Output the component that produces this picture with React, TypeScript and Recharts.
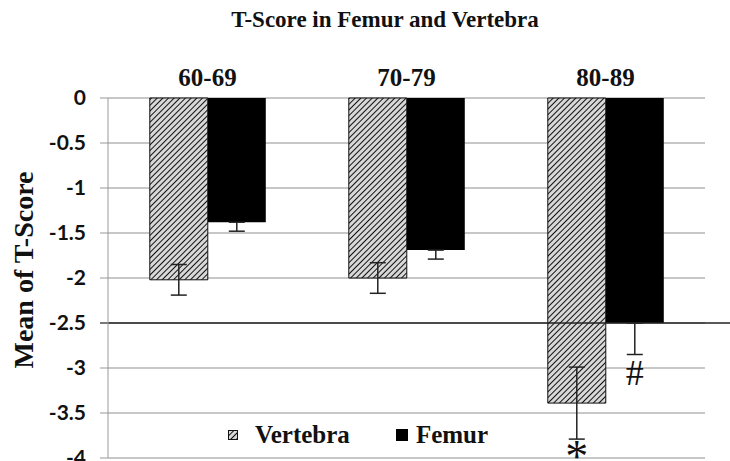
import { BarChart, Bar, XAxis, YAxis, CartesianGrid, ErrorBar, ReferenceLine, LabelList } from 'recharts';

const ageGroups = ['60-69', '70-79', '80-89'];
const vertebraMeans = [-2.02, -2.0, -3.39];
const vertebraErrors = [0.17, 0.17, 0.4];
const femurMeans = [-1.38, -1.69, -2.5];
const femurErrors = [0.1, 0.1, 0.35];
const vertebraMarks = ['', '', '*'];
const femurMarks = ['', '', '#'];
const yTicks = [0, -0.5, -1, -1.5, -2, -2.5, -3, -3.5, -4];
const threshold = -2.5;

const rows = ageGroups.map((group, i) => ({
  group,
  vertebra: vertebraMeans[i],
  vertebraErr: vertebraErrors[i],
  vertebraMark: vertebraMarks[i],
  femur: femurMeans[i],
  // femur error only shows below the bar
  femurErr: [femurErrors[i], 0],
  femurMark: femurMarks[i],
}));

const serif = 'Liberation Serif, DejaVu Serif, serif';
const sans = 'Lato, Liberation Sans, sans-serif';

function HatchDefs({ id }: { id: string }) {
  return (
    <defs>
      <pattern id={id} patternUnits="userSpaceOnUse" width="4" height="4" patternTransform="rotate(45)">
        <rect width="4" height="4" fill="#d8d8d8" />
        <line x1="0" y1="0" x2="0" y2="4" stroke="#111" strokeWidth="2" />
      </pattern>
    </defs>
  );
}

function renderYTick(props: any) {
  const { x, y, payload } = props;
  return (
    <text x={x} y={y} dy={7} textAnchor="end" style={{ fontFamily: sans, fontWeight: 700, fontSize: 21 }} fill="#111">
      {payload.value}
    </text>
  );
}

// marks below the error bar; y/height come from the bar rectangle
function makeMark(errors: number[], means: number[], gap: number, size: number) {
  return (props: any) => {
    const { x, y, width, height, value, index } = props;
    if (!value) return null;
    const bottom = Math.max(y, y + height);
    const ppu = Math.abs(height) / Math.abs(means[index]);
    return (
      <text
        x={x + width / 2}
        y={bottom + errors[index] * ppu + gap}
        textAnchor="middle"
        fontFamily={serif}
        fontSize={size}
        fill="#111"
      >
        {value}
      </text>
    );
  };
}

function ThresholdLine(props: any) {
  const { x1, y1, y2 } = props;
  return <line x1={x1 - 8} y1={y1} x2={730} y2={y2} stroke="#222" strokeWidth={1.5} />;
}

export default function App() {
  return (
    <div style={{ position: 'absolute', left: 0, top: 0, width: 730, height: 461, background: '#fff', overflow: 'hidden' }}>
      <div
        style={{
          position: 'absolute', top: 7, left: 225, width: 320, textAlign: 'center',
          fontFamily: serif, fontWeight: 'bold', fontSize: 23, color: '#111', whiteSpace: 'nowrap',
        }}
      >
        T-Score in Femur and Vertebra
      </div>
      <BarChart
        width={730}
        height={461}
        data={rows}
        margin={{ top: 60, right: 25, left: 0, bottom: 3 }}
        barGap={0}
        barCategoryGap="21%"
      >
        <HatchDefs id="hatch" />
        <CartesianGrid vertical={false} stroke="#b5b5b5" strokeWidth={1.5} />
        <XAxis
          dataKey="group"
          orientation="top"
          height={38}
          axisLine={false}
          tickLine={false}
          tickMargin={6}
          tick={{ fontSize: 25, fontWeight: 'bold', fill: '#111', fontFamily: serif }}
        />
        <YAxis
          type="number"
          domain={[-4, 0]}
          ticks={yTicks}
          interval={0}
          width={108}
          tickSize={8}
          tickMargin={14}
          axisLine={{ stroke: '#999' }}
          tickLine={{ stroke: '#999' }}
          tick={renderYTick}
          label={{
            value: 'Mean of T-Score',
            angle: -90,
            position: 'insideLeft',
            offset: 23,
            dy: -8,
            style: { textAnchor: 'middle', fontSize: 28, fontWeight: 'bold', fill: '#111', fontFamily: serif },
          }}
        />
        <Bar dataKey="vertebra" fill="url(#hatch)" stroke="#111" strokeWidth={1} isAnimationActive={false}>
          <ErrorBar dataKey="vertebraErr" width={8} stroke="#222" strokeWidth={1.5} direction="y" />
          <LabelList dataKey="vertebraMark" content={makeMark(vertebraErrors, vertebraMeans, 33, 46)} />
        </Bar>
        <Bar dataKey="femur" fill="#000" isAnimationActive={false}>
          <ErrorBar dataKey="femurErr" width={8} stroke="#222" strokeWidth={1.5} direction="y" />
          <LabelList dataKey="femurMark" content={makeMark(femurErrors, femurMeans, 30, 36)} />
        </Bar>
        <ReferenceLine y={threshold} shape={ThresholdLine} />
      </BarChart>
      <div
        style={{
          position: 'absolute', top: 421, left: 228, display: 'flex', gap: 46,
          fontFamily: serif, fontWeight: 'bold', fontSize: 25, color: '#111', alignItems: 'center',
        }}
      >
        <div style={{ display: 'flex', alignItems: 'center', gap: 17 }}>
          <svg width={10} height={10}>
            <HatchDefs id="hatchLegend" />
            <rect x={0.5} y={0.5} width={9} height={9} fill="url(#hatchLegend)" stroke="#111" />
          </svg>
          Vertebra
        </div>
        <div style={{ display: 'flex', alignItems: 'center', gap: 8 }}>
          <svg width={12} height={12}>
            <rect width={12} height={12} fill="#000" />
          </svg>
          Femur
        </div>
      </div>
    </div>
  );
}
